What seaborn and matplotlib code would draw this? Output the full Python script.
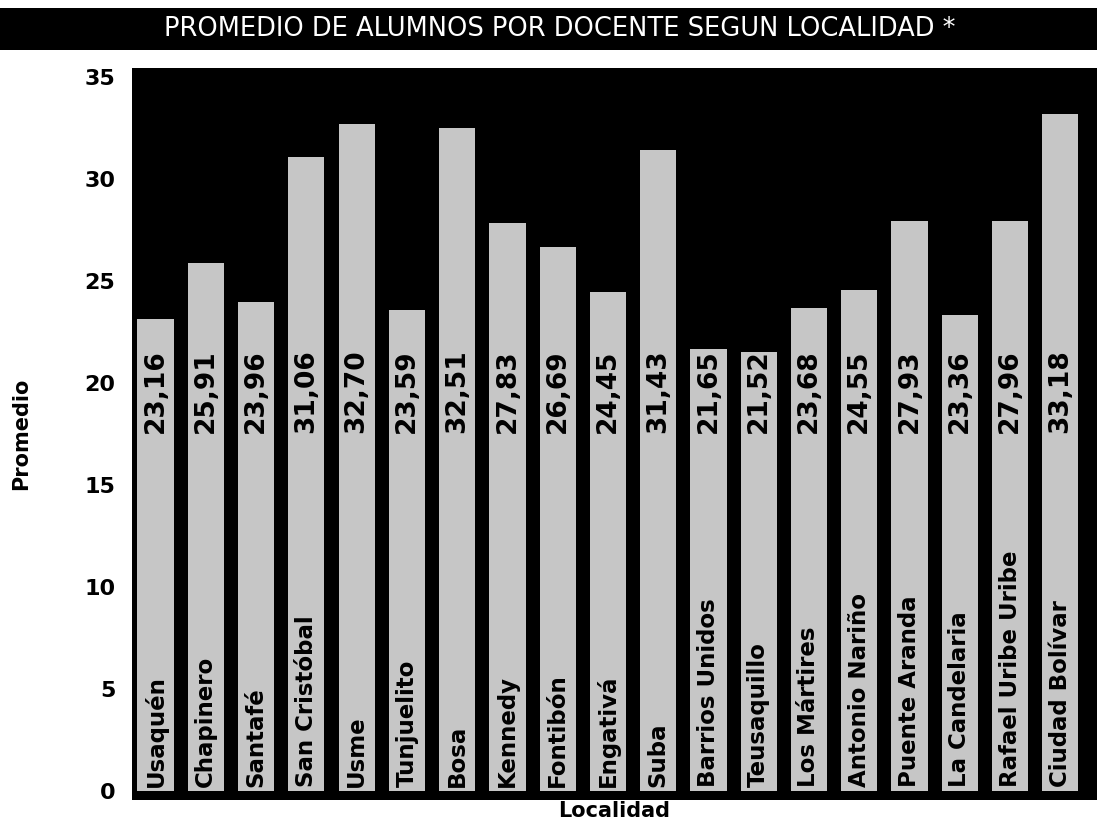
import matplotlib
matplotlib.use("Agg")
import matplotlib.pyplot as plt
import seaborn as sns
import pandas as pd
from matplotlib.patches import Rectangle

localidades = [
    "Usaquén", "Chapinero", "Santafé", "San Cristóbal", "Usme", "Tunjuelito",
    "Bosa", "Kennedy", "Fontibón", "Engativá", "Suba", "Barrios Unidos",
    "Teusaquillo", "Los Mártires", "Antonio Nariño", "Puente Aranda",
    "La Candelaria", "Rafael Uribe Uribe", "Ciudad Bolívar",
]
promedio = [
    23.16, 25.91, 23.96, 31.06, 32.70, 23.59,
    32.51, 27.83, 26.69, 24.45, 31.43, 21.65,
    21.52, 23.68, 24.55, 27.93,
    23.36, 27.96, 33.18,
]
y_ticks = [0, 5, 10, 15, 20, 25, 30, 35]

df = pd.DataFrame({"Localidad": localidades, "Promedio": promedio})

sns.set_theme(style="white")
plt.rcParams["font.family"] = ["DejaVu Sans"]

fig = plt.figure(figsize=(10.97, 8.21), dpi=100)
fig.patch.set_facecolor("white")

# title band
fig.patches.append(Rectangle((0.0, 0.939), 1.0, 0.051, transform=fig.transFigure,
                             facecolor="black", edgecolor="none", zorder=0))
fig.text(0.51, 0.965, "PROMEDIO DE ALUMNOS POR DOCENTE SEGUN LOCALIDAD *",
         color="white", fontsize=18.5, ha="center", va="center",
         fontweight="normal")

ax = fig.add_axes([0.1203, 0.0256, 0.8797, 0.8914])
ax.set_facecolor("black")

sns.barplot(data=df, x="Localidad", y="Promedio", color="#c6c6c6",
            saturation=1, width=0.72, ax=ax, edgecolor="none")

ax.set_xlim(-0.47, 18.73)
ax.set_ylim(-0.44, 35.44)
ax.set_yticks(y_ticks)
ax.set_yticklabels([str(t) for t in y_ticks], fontsize=16, fontweight="bold",
                   color="black")
ax.tick_params(axis="y", length=0, pad=12)
ax.set_xticks([])
for s in ax.spines.values():
    s.set_visible(False)

ax.set_ylabel("Promedio", fontsize=15, fontweight="bold", color="black",
              labelpad=38)
ax.set_xlabel("Localidad", fontsize=15, fontweight="bold", color="black",
              labelpad=1)

for i, (name, val) in enumerate(zip(localidades, promedio)):
    ax.text(i, 0.2, name, rotation=90, ha="center", va="bottom",
            fontsize=16.5, fontweight="bold", color="black")
    ax.text(i, 19.6, f"{val:.2f}".replace(".", ","), rotation=90,
            ha="center", va="center", fontsize=19, fontweight="bold",
            color="black")

fig.savefig("out.png", dpi=100)
